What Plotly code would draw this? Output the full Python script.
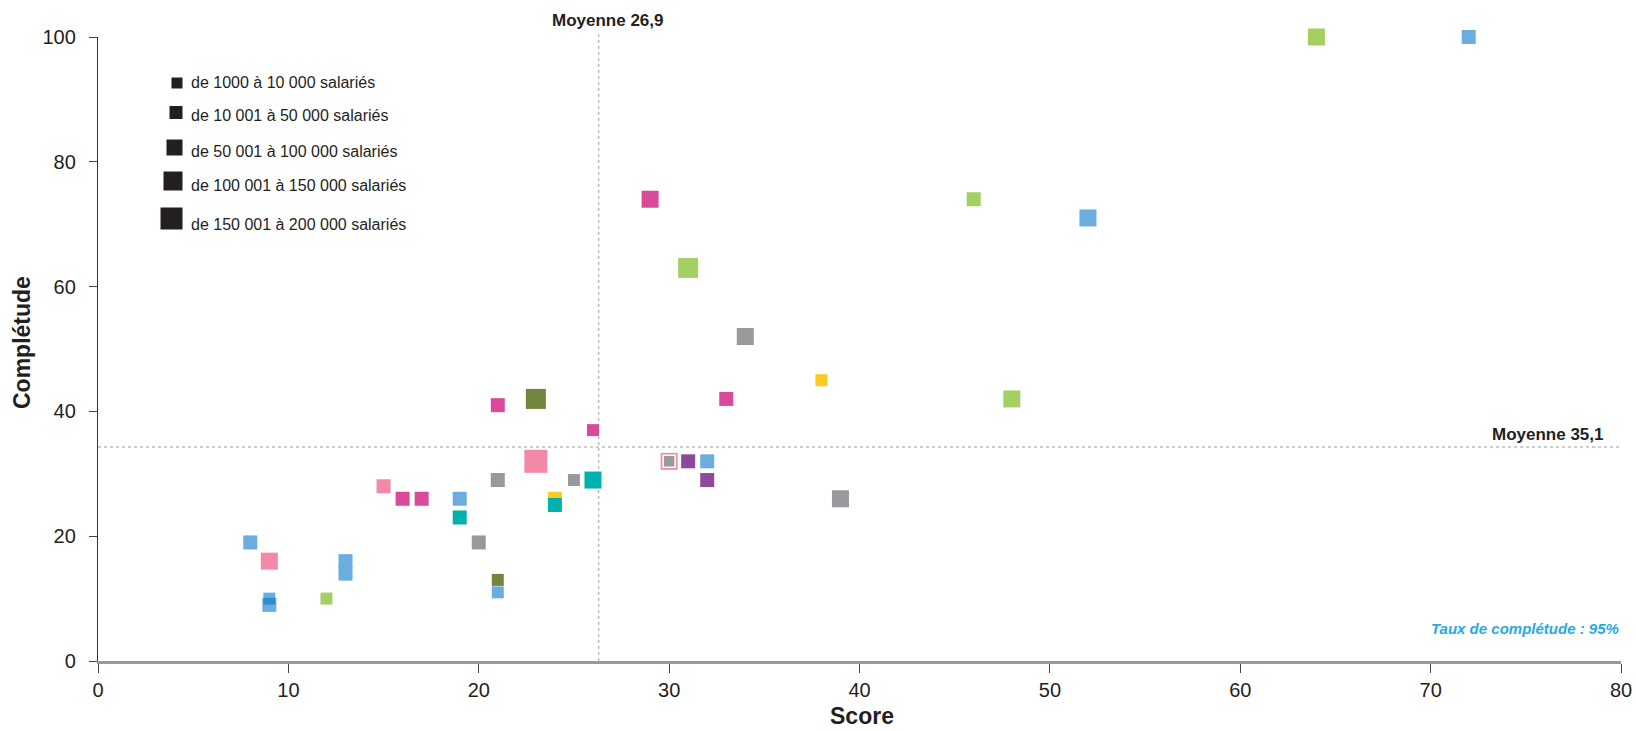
import plotly.graph_objects as go

# ---------------- data ----------------
score = [8, 9, 9, 9, 12, 13, 13, 15, 16, 17, 19, 19, 20, 21, 21, 21, 21, 23, 23, 24,
         24, 25, 26, 26, 29, 30, 30, 31, 31, 32, 32, 33, 34, 38, 39, 46, 48, 52, 64, 72]
completude = [19, 16, 10, 9, 10, 16, 14, 28, 26, 26, 26, 23, 19, 41, 29, 11, 13, 42, 32, 26,
              25, 29, 37, 29, 74, 32, 32, 63, 32, 32, 29, 42, 52, 45, 26, 74, 42, 71, 100, 100]
groupe = ["bleu", "rose", "bleu_t", "bleu_t", "vert", "bleu", "bleu", "rose", "magenta", "magenta",
          "bleu", "turquoise", "gris", "magenta", "gris", "bleu", "olive", "olive", "rose", "jaune",
          "turquoise", "gris", "magenta", "turquoise", "magenta", "rose", "gris_b", "vert", "violet", "bleu",
          "violet", "magenta", "gris", "jaune", "gris", "vert", "vert", "bleu", "vert", "bleu"]
taille = [2, 3, 1, 2, 1, 2, 2, 2, 2, 2, 2, 2, 2, 2, 2, 1, 1, 4, 5, 2,
          2, 1, 1, 3, 3, 3, 1, 4, 2, 2, 2, 2, 3, 1, 3, 2, 3, 3, 3, 2]

legende_labels = ["de 1000 à 10 000 salariés", "de 10 001 à 50 000 salariés",
                  "de 50 001 à 100 000 salariés", "de 100 001 à 150 000 salariés",
                  "de 150 001 à 200 000 salariés"]
legende_classes = [1, 2, 3, 4, 5]

moyenne_score = 26.3
moyenne_completude = 34.3
label_moy_score = "Moyenne 26,9"
label_moy_comp = "Moyenne 35,1"
taux_label = "Taux de complétude : 95%"

x_ticks = [0, 10, 20, 30, 40, 50, 60, 70, 80]
y_ticks = [0, 20, 40, 60, 80, 100]

# ---------------- styles ----------------
couleurs = {
    "bleu": "#6AADDE", "bleu_t": "rgba(8,118,200,0.6)", "vert": "#A4CF63",
    "magenta": "#D94A9A", "rose": "#F389A6", "gris": "#98999D", "gris_b": "#98999D",
    "turquoise": "#00B1AE", "olive": "#72873D", "jaune": "#FBCB1F", "violet": "#8E4A9A",
}
tailles_px = {1: 12, 2: 14, 3: 17, 4: 20, 5: 23}
FONT = "Liberation Sans, Arial, sans-serif"

W, H = 1636, 731
ML, MR, MT, MB = 98, 15, 37, 70
PW, PH = W - ML - MR, H - MT - MB


def px_x(px):
    return (px - ML) / PW


def px_y(py):
    return (H - MB - py) / PH


fig = go.Figure()

fig.add_trace(go.Scatter(
    x=score, y=completude, mode="markers", cliponaxis=False, hoverinfo="x+y",
    marker=dict(
        symbol="square", opacity=1,
        size=[tailles_px[t] for t in taille],
        color=[couleurs[g] for g in groupe],
        line=dict(color="white", width=[1.5 if g == "gris_b" else 0 for g in groupe]),
    ),
    showlegend=False,
))

# custom size legend (layout positions in pixels)
leg_sq_right = 183
leg_sq_y = [83, 112.5, 147.5, 181, 218.5]
leg_txt_y = [83, 115, 151, 185, 224]
fig.add_trace(go.Scatter(
    x=[px_x(leg_sq_right - tailles_px[c] / 2) for c in legende_classes],
    y=[px_y(v) for v in leg_sq_y],
    xaxis="x2", yaxis="y2", mode="markers", cliponaxis=False, hoverinfo="skip",
    marker=dict(symbol="square", opacity=1, size=[tailles_px[c] for c in legende_classes],
                color="#231F20"),
    showlegend=False,
))

annotations = []
for lab, ty in zip(legende_labels, leg_txt_y):
    annotations.append(dict(xref="paper", yref="paper", x=px_x(189), y=px_y(ty),
                            xanchor="left", yanchor="middle", text=lab, showarrow=False,
                            font=dict(family=FONT, size=16, color="#231F20")))

annotations += [
    dict(xref="paper", yref="paper", x=px_x(608), y=px_y(20), xanchor="center", yanchor="middle",
         text="<b>" + label_moy_score + "</b>", showarrow=False,
         font=dict(family=FONT, size=17, color="#231F20")),
    dict(xref="paper", yref="paper", x=px_x(1606), y=px_y(434), xanchor="right", yanchor="middle",
         text="<b>" + label_moy_comp + "</b>", showarrow=False,
         font=dict(family=FONT, size=17, color="#231F20")),
    dict(xref="paper", yref="paper", x=1.0, y=px_y(628), xanchor="right", yanchor="middle",
         text="<b><i>" + taux_label + "</i></b>", showarrow=False,
         font=dict(family=FONT, size=15, color="#29A9E0")),
    dict(xref="paper", yref="paper", x=px_x(862), y=px_y(716), xanchor="center", yanchor="middle",
         text="<b>Score</b>", showarrow=False, font=dict(family=FONT, size=23, color="#231F20")),
    dict(xref="paper", yref="paper", x=px_x(22), y=px_y(343), xanchor="center", yanchor="middle",
         text="<b>Complétude</b>", textangle=-90, showarrow=False,
         font=dict(family=FONT, size=23, color="#231F20")),
]

shapes = [
    dict(type="line", xref="x", yref="paper", x0=moyenne_score, x1=moyenne_score, y0=0, y1=px_y(33),
         line=dict(color="#BDBDBD", width=1.5, dash="dot"), layer="below"),
    dict(type="line", xref="paper", yref="y", x0=0, x1=1, y0=moyenne_completude, y1=moyenne_completude,
         line=dict(color="#BDBDBD", width=1.5, dash="dot"), layer="below"),
]

fig.update_layout(
    width=W, height=H,
    margin=dict(l=ML, r=MR, t=MT, b=MB, pad=0, autoexpand=False),
    paper_bgcolor="white", plot_bgcolor="white",
    font=dict(family=FONT, color="#231F20"),
    xaxis=dict(range=[0, 80], tickvals=x_ticks, ticks="outside", ticklen=9, tickwidth=1.2,
               tickcolor="#444", showline=True, linecolor="#999", linewidth=3, automargin=False,
               showgrid=False, zeroline=False, tickfont=dict(family=FONT, size=20, color="#231F20"),
               ticklabelstandoff=0, fixedrange=True),
    yaxis=dict(range=[0, 100], tickvals=y_ticks, ticks="outside", ticklen=8, tickwidth=1.2,
               tickcolor="#444", showline=True, linecolor="#333", linewidth=1.3, automargin=False,
               showgrid=False, zeroline=False, tickfont=dict(family=FONT, size=20, color="#231F20"),
               ticklabelstandoff=9, fixedrange=True),
    xaxis2=dict(range=[0, 1], overlaying="x", visible=False, fixedrange=True, automargin=False),
    yaxis2=dict(range=[0, 1], overlaying="y", visible=False, fixedrange=True, automargin=False),
    annotations=annotations, shapes=shapes, showlegend=False,
)

fig.write_html("out.html", config={"displayModeBar": False},
               post_script="document.body.style.margin='0px';document.body.style.overflow='hidden';")
